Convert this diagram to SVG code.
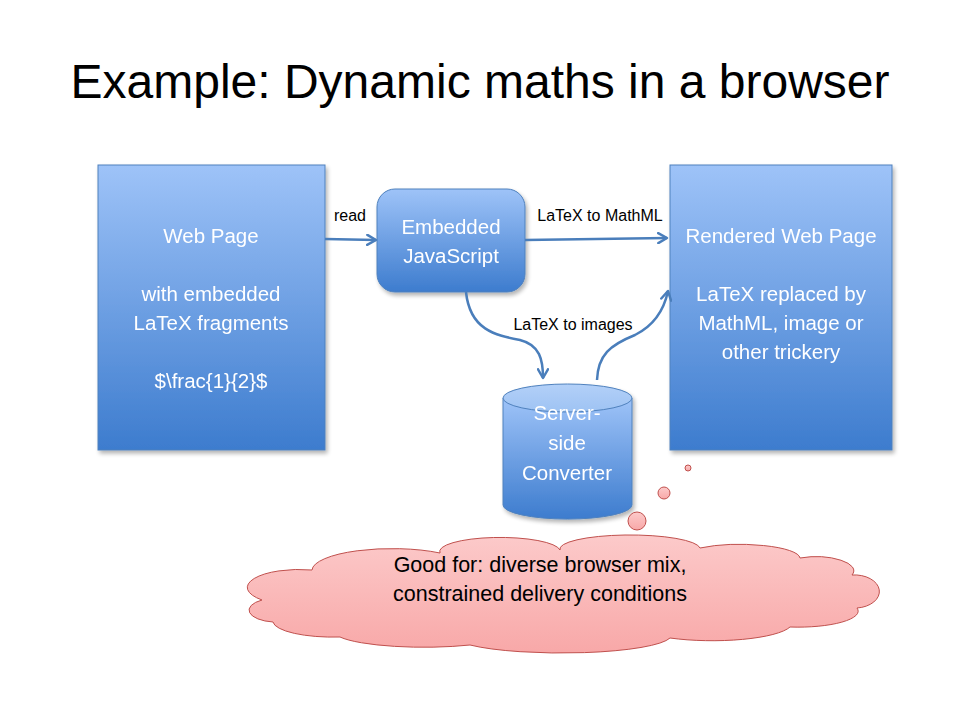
<svg xmlns="http://www.w3.org/2000/svg" width="960" height="720" viewBox="0 0 960 720">
<style>
.t{font-family:"Liberation Sans",Arial,sans-serif;fill:#fff;font-size:20.5px;text-anchor:middle}
.lbl{font-family:"Liberation Sans",Arial,sans-serif;fill:#000;font-size:16px;text-anchor:middle}
.nt{font-family:"Liberation Sans",Arial,sans-serif;fill:#000;font-size:21.5px;text-anchor:middle}
.box{fill:url(#blue);stroke:#4f81bd;stroke-width:1}
.conn{fill:none;stroke:#4a7ebb;stroke-width:2.5;marker-end:url(#arr)}
.bub{fill:url(#pink);stroke:#c0504d;stroke-width:1}
</style>
<defs>
<linearGradient id="blue" x1="0" y1="0" x2="0" y2="1">
<stop offset="0" stop-color="#9ec3f8"/>
<stop offset="1" stop-color="#3d7cce"/>
</linearGradient>
<linearGradient id="pink" x1="0" y1="0" x2="0" y2="1">
<stop offset="0" stop-color="#fccaca"/>
<stop offset="1" stop-color="#f8a8a8"/>
</linearGradient>
<linearGradient id="cyltop" x1="0" y1="0" x2="0" y2="1">
<stop offset="0" stop-color="#b3d0f8"/>
<stop offset="1" stop-color="#9ec3f3"/>
</linearGradient>
<filter id="sh" x="-10%" y="-10%" width="130%" height="130%">
<feGaussianBlur in="SourceAlpha" stdDeviation="2"/>
<feOffset dx="2" dy="3"/>
<feComponentTransfer><feFuncA type="linear" slope="0.3"/></feComponentTransfer>
<feMerge><feMergeNode/><feMergeNode in="SourceGraphic"/></feMerge>
</filter>
<marker id="arr" viewBox="0 0 10 10" refX="8" refY="5" markerWidth="5" markerHeight="5" orient="auto" markerUnits="strokeWidth">
<path d="M1,1 L8,5 L1,9" fill="none" stroke="#4a7ebb" stroke-width="2" stroke-linecap="round" stroke-linejoin="round"/>
</marker>
</defs>
<rect width="960" height="720" fill="#fff"/>
<text x="480" y="98" font-family="Liberation Sans,Arial,sans-serif" font-size="48" fill="#000" text-anchor="middle">Example: Dynamic maths in a browser</text>

<g id="webpage" filter="url(#sh)">
<rect class="box" x="98" y="165" width="227" height="285"/>
<text class="t" x="211" y="243">Web Page</text>
<text class="t" x="211" y="301">with embedded</text>
<text class="t" x="211" y="330">LaTeX fragments</text>
<text class="t" x="211" y="388">$\frac{1}{2}$</text>
</g>

<g id="js" filter="url(#sh)">
<rect class="box" x="377" y="189" width="148" height="103" rx="18"/>
<text class="t" x="451" y="234">Embedded</text>
<text class="t" x="451" y="263">JavaScript</text>
</g>

<g id="rendered" filter="url(#sh)">
<rect class="box" x="670" y="165" width="222" height="285"/>
<text class="t" x="781" y="243">Rendered Web Page</text>
<text class="t" x="781" y="301">LaTeX replaced by</text>
<text class="t" x="781" y="330">MathML, image or</text>
<text class="t" x="781" y="359">other trickery</text>
</g>

<g id="converter" filter="url(#sh)">
<path class="box" d="M503,398 L503,505 A64,14 0 0 0 632,505 L632,398 Z"/>
<ellipse cx="567.5" cy="398" rx="64.5" ry="14" fill="url(#cyltop)" stroke="#4f81bd" stroke-width="1"/>
<text class="t" x="567" y="420">Server-</text>
<text class="t" x="567" y="450">side</text>
<text class="t" x="567" y="480">Converter</text>
</g>

<g id="connectors">
<path class="conn" d="M325,239 L376,240"/>
<path class="conn" d="M525,240 L667,238"/>
<path class="conn" d="M466,292 C470,330 495,335 520,340 C540,345 543,360 543,378"/>
<path class="conn" d="M597,380 C598,355 610,345 635,335 C655,325 664,310 668,291"/>
<text class="lbl" x="350" y="221">read</text>
<text class="lbl" x="600" y="221">LaTeX to MathML</text>
<text class="lbl" x="573" y="330">LaTeX to images</text>
</g>

<g id="note">
<circle class="bub" cx="688" cy="468" r="3"/>
<circle class="bub" cx="664" cy="493" r="6"/>
<circle class="bub" cx="637" cy="521" r="9"/>
<path class="bub" d="M262,600 A52,18 0 0 1 312,570 A80,22 0 0 1 440,553 A60,14 0 0 1 560,550 A70,14 0 0 1 700,548 A60,14 0 0 1 800,558 A38,14 0 0 1 852,575 A24,16 0 0 1 857,608 A60,16 0 0 1 790,627 A80,18 0 0 1 670,638 A110,18 0 0 1 470,645 A90,16 0 0 1 340,637 A60,16 0 0 1 273,622 A28,12 0 0 1 262,600 Z"/>
<text class="nt" x="540" y="572">Good for: diverse browser mix,</text>
<text class="nt" x="540" y="601">constrained delivery conditions</text>
</g>
</svg>
